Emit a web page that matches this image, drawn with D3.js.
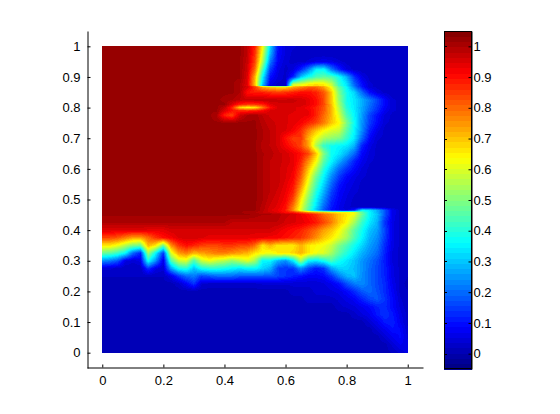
<!DOCTYPE html>
<html><head><meta charset="utf-8">
<script src="https://cdn.jsdelivr.net/npm/d3@7"></script>
<style>html,body{margin:0;padding:0;background:#fff}svg{display:block}text{font-family:"Liberation Sans",Arial,sans-serif;font-size:13px;fill:#000}</style>
</head><body><div id="c"></div>
<script>
const xTickValues=[0,0.2,0.4,0.6,0.8,1];
const yTickValues=[0,0.1,0.2,0.3,0.4,0.5,0.6,0.7,0.8,0.9,1];
const colorDomain=[-0.05,1.05];
const gridX=[0,.025,.05,.075,.1,.125,.15,.175,.2,.225,.25,.275,.3,.325,.35,.375,.4,.425,.45,.475,.5,.525,.55,.575,.6,.625,.65,.675,.7,.725,.75,.775,.8,.825,.85,.875,.9,.925,.95,.975,1];
const gridY=[1,.975,.95,.925,.9,.875,.872,.868,.85,.825,.81,.8,.79,.775,.75,.725,.7,.675,.65,.625,.6,.575,.55,.525,.5,.475,.465,.458,.452,.425,.4,.375,.35,.325,.3,.275,.25,.225,.2,.175,.15,.125,.1,.075,.05,.025,0];
const gridValues=[
[102,102,102,102,102,102,102,102,102,102,102,102,102,102,102,102,102,102,102,98,88,64,32,10,5,4,3,2,2,2,2,2,2,2,2,2,2,2,2,2,2],
[102,102,102,102,102,102,102,102,102,102,102,102,102,102,102,102,102,102,102,98,86,60,28,9,5,3,2,2,2,2,2,2,2,2,2,2,2,2,2,2,2],
[102,102,102,102,102,102,102,102,102,102,102,102,102,102,102,102,102,102,102,97,84,55,22,8,4,3,3,4,6,7,6,4,3,2,2,2,2,2,2,2,2],
[102,102,102,102,102,102,102,102,102,102,102,102,102,102,102,102,102,102,102,96,80,45,15,6,3,5,12,22,35,36,22,12,5,3,2,2,2,2,2,2,2],
[102,102,102,102,102,102,102,102,102,102,102,102,102,102,102,102,102,102,102,95,72,36,10,5,3,12,30,38,44,46,45,38,28,14,6,3,2,2,2,2,2],
[102,102,102,102,102,102,102,102,102,102,102,102,102,102,102,102,102,102,100,94,70,30,6,3,3,60,62,66,68,66,58,42,34,20,10,4,3,2,2,2,2],
[102,102,102,102,102,102,102,102,102,102,102,102,102,102,102,102,102,102,100,94,72,28,5,3,3,62,62,66,68,66,58,42,34,20,10,4,3,2,2,2,2],
[102,102,102,102,102,102,102,102,102,102,102,102,102,102,102,102,102,102,100,96,85,72,68,66,66,72,76,80,80,74,62,46,36,22,11,4,3,2,2,2,2],
[102,102,102,102,102,102,102,102,102,102,102,102,102,102,102,102,102,102,100,90,88,88,86,85,86,88,90,90,88,82,70,50,38,32,20,10,5,3,2,2,2],
[102,102,102,102,102,102,102,102,102,102,102,102,102,102,102,102,101,100,98,97,98,98,98,97,97,97,96,94,90,84,70,52,38,34,28,22,16,9,4,3,2],
[102,102,102,102,102,102,102,102,102,102,102,102,102,102,102,102,102,95,88,86,86,88,94,96,96,96,96,94,90,84,71,54,39,34,28,21,15,9,4,3,2],
[102,102,102,102,102,102,102,102,102,102,102,102,102,102,102,102,98,88,68,64,66,78,90,95,95,95,94,92,88,82,72,56,40,34,27,20,14,8,4,3,2],
[102,102,102,102,102,102,102,102,102,102,102,102,102,102,102,102,95,90,88,87,88,91,95,96,96,95,94,93,88,82,72,57,42,35,27,19,13,7,4,3,2],
[102,102,102,102,102,102,102,102,102,102,102,102,102,102,102,100,88,84,96,100,101,98,96,96,95,94,94,93,88,80,72,60,44,36,26,16,10,5,3,2,2],
[102,102,102,102,102,102,102,102,102,102,102,102,102,102,102,102,102,102,102,102,102,99,97,96,95,94,92,88,84,78,70,64,50,37,25,15,9,4,3,2,2],
[102,102,102,102,102,102,102,102,102,102,102,102,102,102,102,102,102,102,102,102,102,100,98,96,95,92,87,78,70,64,60,58,46,36,24,12,6,3,2,2,2],
[102,102,102,102,102,102,102,102,102,102,102,102,102,102,102,102,102,102,102,102,102,100,98,96,90,85,86,72,62,55,52,50,42,34,20,9,4,3,2,2,2],
[102,102,102,102,102,102,102,102,102,102,102,102,102,102,102,102,102,102,102,102,102,99,98,96,92,88,84,74,55,42,38,36,34,28,12,6,3,2,2,2,2],
[102,102,102,102,102,102,102,102,102,102,102,102,102,102,102,102,102,102,102,102,102,100,99,97,96,93,90,84,70,50,38,34,28,20,9,5,3,2,2,2,2],
[102,102,102,102,102,102,102,102,102,102,102,102,102,102,102,102,102,102,102,102,102,100,98,97,96,94,88,76,64,46,36,28,20,12,7,4,3,2,2,2,2],
[102,102,102,102,102,102,102,102,102,102,102,102,102,102,102,102,102,102,102,102,102,100,98,97,95,93,85,70,56,40,30,20,14,9,5,3,2,2,2,2,2],
[102,102,102,102,102,102,102,102,102,102,102,102,102,102,102,102,102,102,102,102,102,100,98,97,95,92,82,65,48,36,24,15,9,6,4,3,2,2,2,2,2],
[102,102,102,102,102,102,102,102,102,102,102,102,102,102,102,102,102,102,102,102,102,100,98,97,94,90,78,60,44,32,20,11,7,5,3,2,2,2,2,2,2],
[102,102,102,102,102,102,102,102,102,102,102,102,102,102,102,102,102,102,102,102,102,100,98,96,93,88,72,55,40,28,16,9,6,4,3,2,2,2,2,2,2],
[102,102,102,102,102,102,102,102,102,102,102,102,102,102,102,102,102,102,102,102,102,100,97,95,92,84,66,50,36,24,13,8,5,3,2,2,2,2,2,2,2],
[102,102,102,102,102,102,102,102,102,102,102,102,102,102,102,102,102,102,102,102,102,99,96,94,90,78,62,46,33,20,11,7,4,3,3,3,2,2,2,2,2],
[102,102,102,102,102,102,102,102,102,102,102,102,102,102,102,102,102,102,102,102,102,99,95,93,89,76,60,44,30,18,10,7,5,10,36,34,28,18,7,3,2],
[102,102,102,102,102,102,102,102,102,102,102,102,102,102,102,102,102,102,102,100,100,98,96,94,90,88,82,76,72,70,66,64,64,62,46,36,28,18,7,3,2],
[102,102,102,102,102,102,102,102,102,102,102,102,102,102,102,102,102,102,102,102,101,100,100,99,97,96,93,90,86,80,76,70,66,62,48,36,30,18,7,3,2],
[100,100,100,100,100,100,100,100,100,100,100,100,100,100,100,100,100,98,98,98,98,98,98,98,96,95,94,92,89,84,78,70,64,54,42,34,28,14,6,3,2],
[95,95,95,95,95,95,94,94,94,96,96,96,96,96,96,96,96,96,96,96,96,96,96,94,92,90,88,84,80,74,70,64,56,46,38,30,26,16,6,3,2],
[84,84,82,78,74,74,80,86,90,92,95,96,96,95,94,94,94,94,94,94,93,93,92,92,90,88,86,82,76,70,66,60,54,44,36,28,24,15,6,3,2],
[66,66,62,56,50,48,72,66,48,76,86,90,88,85,84,84,86,86,84,84,80,66,72,66,66,66,72,66,64,62,58,50,44,38,32,26,22,13,6,3,2],
[48,46,42,36,20,12,54,36,14,60,74,78,72,74,76,78,78,76,74,72,66,64,62,66,66,68,72,66,62,60,54,46,40,34,28,24,20,12,5,3,2],
[24,22,18,6,4,6,38,24,6,44,58,60,44,58,62,58,56,52,56,60,54,36,36,28,24,34,54,36,34,38,44,38,34,30,25,21,17,11,5,3,2],
[4,4,3,2,2,2,14,6,4,26,38,40,30,38,40,40,38,36,34,36,36,32,28,16,14,14,24,16,11,14,26,32,32,29,25,20,16,12,6,3,2],
[2,2,2,2,2,2,2,2,2,6,14,20,22,16,18,20,20,20,18,18,18,18,18,16,14,12,10,8,8,9,14,22,28,30,24,20,16,12,6,3,2],
[1,1,1,1,1,1,1,1,1,1,3,8,14,4,3,3,3,3,3,3,3,4,4,4,4,4,4,4,4,5,7,10,17,22,24,20,16,13,7,3,1],
[1,1,1,1,1,1,1,1,1,1,1,1,1,1,1,1,1,1,1,1,1,1,1,1,1,3,3,3,4,4,5,6,9,13,18,20,17,13,8,3,2],
[1,1,1,1,1,1,1,1,1,1,1,1,1,1,1,1,1,1,1,1,1,1,1,1,1,1,1,3,3,3,3,4,6,8,12,16,18,14,9,4,2],
[1,1,1,1,1,1,1,1,1,1,1,1,1,1,1,1,1,1,1,1,1,1,1,1,1,1,1,1,1,1,1,3,4,5,7,9,12,13,9,5,2],
[1,1,1,1,1,1,1,1,1,1,1,1,1,1,1,1,1,1,1,1,1,1,1,1,1,1,1,1,1,1,1,1,1,3,5,7,11,14,11,6,3],
[1,1,1,1,1,1,1,1,1,1,1,1,1,1,1,1,1,1,1,1,1,1,1,1,1,1,1,1,1,1,1,1,1,1,1,4,7,11,12,7,3],
[1,1,1,1,1,1,1,1,1,1,1,1,1,1,1,1,1,1,1,1,1,1,1,1,1,1,1,1,1,1,1,1,1,1,1,1,4,7,10,9,4],
[1,1,1,1,1,1,1,1,1,1,1,1,1,1,1,1,1,1,1,1,1,1,1,1,1,1,1,1,1,1,1,1,1,1,1,1,1,4,7,9,5],
[1,1,1,1,1,1,1,1,1,1,1,1,1,1,1,1,1,1,1,1,1,1,1,1,1,1,1,1,1,1,1,1,1,1,1,1,1,1,4,7,6],
[1,1,1,1,1,1,1,1,1,1,1,1,1,1,1,1,1,1,1,1,1,1,1,1,1,1,1,1,1,1,1,1,1,1,1,1,1,1,2,4,6]
];

function jet(t){
  const f=v=>Math.max(0,Math.min(1,v));
  const r=f(Math.min(4*t-1.5,-4*t+4.5)),g=f(Math.min(4*t-0.5,-4*t+3.5)),b=f(Math.min(4*t+0.5,-4*t+2.5));
  return d3.rgb(r*255,g*255,b*255).formatHex();
}
const levels=64;
const palette=d3.range(levels).map(i=>jet((i+0.5)/levels));

const svg=d3.select("#c").append("svg").attr("width",560).attr("height",414);
const x=d3.scaleLinear().domain([-0.05,1.05]).range([87,423]);
const y=d3.scaleLinear().domain([-0.05,1.05]).range([368,31]);
const levelOf=d3.scaleQuantize().domain(colorDomain).range(d3.range(levels));

// gridY is descending; flip the lookup
const ascY=gridY.slice().reverse();
function sample(vx,vy){
  let i=Math.min(gridX.length-2,Math.max(0,d3.bisectRight(gridX,vx)-1));
  let j=Math.min(ascY.length-2,Math.max(0,d3.bisectRight(ascY,vy)-1));
  const tx=(vx-gridX[i])/(gridX[i+1]-gridX[i]), ty=(vy-ascY[j])/(ascY[j+1]-ascY[j]);
  const rowA=gridValues[gridY.length-1-j], rowB=gridValues[gridY.length-2-j];
  const a=rowA[i]*(1-tx)+rowA[i+1]*tx, b=rowB[i]*(1-tx)+rowB[i+1]*tx;
  return (a*(1-ty)+b*ty)/100;
}
const pxL=Math.round(x(0)),pxR=Math.round(x(1)),pyT=Math.round(y(1)),pyB=Math.round(y(0));
const runs=[];
for(let py=pyT;py<pyB;py++){
  let start=pxL,cur=levelOf(sample(x.invert(pxL+.5),y.invert(py+.5)));
  for(let px=pxL+1;px<=pxR;px++){
    const l=px<pxR?levelOf(sample(x.invert(px+.5),y.invert(py+.5))):-1;
    if(l!==cur){runs.push({x:start,y:py,w:px-start,l:cur});start=px;cur=l;}
  }
}
svg.append("g").attr("shape-rendering","crispEdges").selectAll("rect").data(runs).join("rect")
  .attr("x",d=>d.x).attr("y",d=>d.y).attr("width",d=>d.w).attr("height",1).attr("fill",d=>palette[d.l]);

const ax=d3.axisBottom(x).tickValues(xTickValues).tickFormat(d3.format("~g")).tickSizeInner(-3).tickSizeOuter(0).tickPadding(8);
const gx=svg.append("g").attr("transform","translate(0,367.5)").call(ax);
const ay=d3.axisLeft(y).tickValues(yTickValues).tickFormat(d3.format("~g")).tickSizeInner(-3).tickSizeOuter(0).tickPadding(7);
const gy=svg.append("g").attr("transform","translate(87.5,0)").call(ay);
[gx,gy].forEach(g=>{g.attr("font-size",null).attr("font-family",null);g.selectAll("path,line").attr("stroke","#000");});

// colorbar
const cx0=444,cx1=472;
const cy=d3.scaleLinear().domain(colorDomain).range([369,31]);
const step=(colorDomain[1]-colorDomain[0])/levels;
svg.append("g").attr("shape-rendering","crispEdges").selectAll("rect").data(palette).join("rect")
  .attr("x",cx0).attr("width",cx1-cx0)
  .attr("y",(d,i)=>cy(colorDomain[0]+(i+1)*step))
  .attr("height",(d,i)=>cy(colorDomain[0]+i*step)-cy(colorDomain[0]+(i+1)*step)+0.5)
  .attr("fill",d=>d);
const cb=d3.axisRight(cy).tickValues(yTickValues).tickFormat(d3.format("~g")).tickSizeInner(-3).tickSizeOuter(0).tickPadding(2);
const gc=svg.append("g").attr("transform",`translate(${cx1-.5},0)`).call(cb);
gc.attr("font-size",null).attr("font-family",null);
gc.selectAll("path,line").attr("stroke","#000");
svg.append("rect").attr("x",cx0+.5).attr("y",31.5).attr("width",cx1-cx0-1).attr("height",337).attr("fill","none").attr("stroke","#000");
svg.append("g").selectAll("line").data(yTickValues).join("line")
  .attr("x1",cx0).attr("x2",cx0+3).attr("y1",d=>Math.round(cy(d))+.5).attr("y2",d=>Math.round(cy(d))+.5).attr("stroke","#000");
</script></body></html>
